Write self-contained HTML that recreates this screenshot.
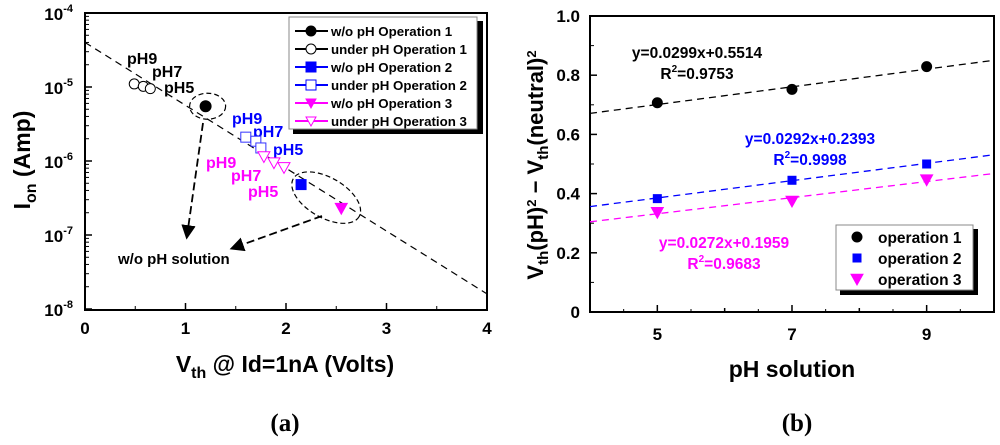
<!DOCTYPE html>
<html><head><meta charset="utf-8"><style>
body{margin:0;background:#fff}
svg{display:block;font-family:"Liberation Sans",Arial,sans-serif;font-weight:bold}
</style></head><body>
<svg id="c" width="1000" height="445" viewBox="0 0 1000 445" xmlns="http://www.w3.org/2000/svg"></svg>
<script>
// ---- panel (a) data ----
const aSeriesNames = ["w/o pH Operation 1","under pH Operation 1","w/o pH Operation 2","under pH Operation 2","w/o pH Operation 3","under pH Operation 3"];
const aVthOp1Under = [0.49, 0.58, 0.65];
const aIonOp1Under = [1.1e-5, 1.02e-5, 0.95e-5];
const aVthOp1 = [1.2];
const aIonOp1 = [5.5e-6];
const aVthOp2Under = [1.6, 1.7, 1.75];
const aIonOp2Under = [2.1e-6, 1.85e-6, 1.5e-6];
const aVthOp2 = [2.15];
const aIonOp2 = [4.8e-7];
const aVthOp3Under = [1.78, 1.88, 1.98];
const aIonOp3Under = [1.15e-6, 0.95e-6, 0.82e-6];
const aVthOp3 = [2.55];
const aIonOp3 = [2.3e-7];
const aTrendX = [0, 4];
const aTrendY = [4e-5, 1.6e-8];
const aXTicks = [0,1,2,3,4];
const aYTickExp = [-8,-7,-6,-5,-4];
// ---- panel (b) data ----
const bPH = [5, 7, 9];
const bOp1 = [0.707, 0.752, 0.829];
const bOp2 = [0.383, 0.445, 0.500];
const bOp3 = [0.337, 0.375, 0.447];
const bSlopes = [0.0299, 0.0292, 0.0272];
const bIntercepts = [0.5514, 0.2393, 0.1959];
const bXTicks = [5, 7, 9];
const bYTicks = [0, 0.2, 0.4, 0.6, 0.8, 1.0];

const S = document.getElementById('c'), NS = 'http://www.w3.org/2000/svg';
function el(tag, at, parent){const e=document.createElementNS(NS,tag);for(const k in at)e.setAttribute(k,at[k]);(parent||S).appendChild(e);return e;}
function txt(x,y,s,size,fill,anchor,name){const t=el('text',{x:x,y:y,'font-size':size,fill:fill||'#000','text-anchor':anchor||'start'});t.textContent=s;


return t;}

const ax=v=>85+v*100.5;
const ay=v=>13+(-4-Math.log10(v))*74;
const bx=v=>590+(v-4)*67.33;
const by=v=>312-v*296;

// ---------- Panel a ----------
let r=el('rect',{x:85,y:13,width:402,height:297,fill:'none',stroke:'#000','stroke-width':2});


aXTicks.forEach(v=>{el('line',{x1:ax(v),x2:ax(v),y1:310,y2:303,stroke:'#000','stroke-width':1.5});
 if(v<4) el('line',{x1:ax(v+0.5),x2:ax(v+0.5),y1:310,y2:306,stroke:'#000','stroke-width':1});
 txt(ax(v),334,String(v),17,'#000','middle','x-tick-a');});
aYTickExp.forEach(e=>{const y=ay(Math.pow(10,e));el('line',{x1:85,x2:92,y1:y,y2:y,stroke:'#000','stroke-width':1.5});
 if(e<-4) for(let m=2;m<10;m++){const yy=ay(m*Math.pow(10,e));el('line',{x1:85,x2:89,y1:yy,y2:yy,stroke:'#000','stroke-width':1});}
 const t=txt(73,y+7,'10',17,'#000','end','y-tick-a');const s=el('tspan',{'font-size':11,dy:-8},t);s.textContent=String(e);});
let yt=txt(0,0,'I',23,'#000','middle','y-axis-title-a');yt.setAttribute('transform','translate(30,160) rotate(-90)');
let ts=el('tspan',{'font-size':16,dy:6},yt);ts.textContent='on';ts=el('tspan',{dy:-6},yt);ts.textContent=' (Amp)';
let xt=txt(285,372,'V',23,'#000','middle','x-axis-title-a');ts=el('tspan',{'font-size':16,dy:6},xt);ts.textContent='th';ts=el('tspan',{dy:-6},xt);ts.textContent=' @ Id=1nA (Volts)';
el('line',{x1:ax(aTrendX[0]),y1:ay(aTrendY[0]),x2:ax(aTrendX[1]),y2:ay(aTrendY[1]),stroke:'#000','stroke-width':1.2,'stroke-dasharray':'7,5'});
el('ellipse',{cx:ax(1.22),cy:ay(5.5e-6),rx:18,ry:13,fill:'none',stroke:'#000','stroke-width':1.2,'stroke-dasharray':'5,3'});
el('ellipse',{cx:ax(2.4),cy:ay(3.2e-7),rx:38,ry:20,transform:`rotate(30 ${ax(2.4)} ${ay(3.2e-7)})`,fill:'none',stroke:'#000','stroke-width':1.2,'stroke-dasharray':'5,3'});
el('defs',{}).innerHTML='<marker id="ah" markerWidth="8" markerHeight="8" refX="6" refY="4" orient="auto"><path d="M0,0 L8,4 L0,8 z" fill="#000"/></marker>';
el('line',{x1:203,y1:123,x2:187,y2:236,stroke:'#000','stroke-width':1.8,'stroke-dasharray':'8,4','marker-end':'url(#ah)'});
el('line',{x1:322,y1:216,x2:233,y2:248,stroke:'#000','stroke-width':1.8,'stroke-dasharray':'8,4','marker-end':'url(#ah)'});
txt(118,264,'w/o pH solution',15,'#000','start','annotation-no-ph');
txt(127,64,'pH9',16,'#000','start','label-ph9-op1');txt(152,77,'pH7',16,'#000','start','label-ph7-op1');txt(164,93,'pH5',16,'#000','start','label-ph5-op1');
txt(232,124,'pH9',16,'#0000ff','start','label-ph9-op2');txt(253,137,'pH7',16,'#0000ff','start','label-ph7-op2');txt(273,155,'pH5',16,'#0000ff','start','label-ph5-op2');
txt(206,168,'pH9',16,'#ff00ff','start','label-ph9-op3');txt(231,181,'pH7',16,'#ff00ff','start','label-ph7-op3');txt(248,197,'pH5',16,'#ff00ff','start','label-ph5-op3');
function marker(type,x,y,color,filled,size,name){let m;const f=filled?color:'#fff';
 if(type==='c') m=el('circle',{cx:x,cy:y,r:size,fill:f,stroke:color,'stroke-width':1});
 else if(type==='s') m=el('rect',{x:x-size,y:y-size,width:2*size,height:2*size,fill:f,stroke:color,'stroke-width':1});
 else m=el('path',{d:`M${x-size},${y-size*0.8} L${x+size},${y-size*0.8} L${x},${y+size} Z`,fill:f,stroke:color,'stroke-width':1});
 
 
 return m;}
aVthOp1Under.forEach((v,i)=>marker('c',ax(v),ay(aIonOp1Under[i]),'#000',false,5,'point-op1-under'));
aVthOp1.forEach((v,i)=>marker('c',ax(v),ay(aIonOp1[i]),'#000',true,5.5,'point-op1'));
aVthOp2Under.forEach((v,i)=>marker('s',ax(v),ay(aIonOp2Under[i]),'#3333ff',false,5,'point-op2-under'));
aVthOp2.forEach((v,i)=>marker('s',ax(v),ay(aIonOp2[i]),'#0000ff',true,5,'point-op2'));
aVthOp3Under.forEach((v,i)=>marker('t',ax(v),ay(aIonOp3Under[i]),'#ff00ff',false,6,'point-op3-under'));
aVthOp3.forEach((v,i)=>marker('t',ax(v),ay(aIonOp3[i]),'#ff00ff',true,6,'point-op3'));
el('rect',{x:293,y:21,width:190,height:113,fill:'#000'});
let lg=el('rect',{x:289,y:17,width:188,height:112,fill:'#fff',stroke:'#888','stroke-width':1});


const lgCol=['#000','#000','#0000ff','#0000ff','#ff00ff','#ff00ff'],lgType=['c','c','s','s','t','t'],lgFill=[true,false,true,false,true,false];
aSeriesNames.forEach((n,i)=>{const y=31+i*18;el('line',{x1:295,x2:328,y1:y,y2:y,stroke:lgCol[i],'stroke-width':2});
 marker(lgType[i],311,y,lgCol[i],lgFill[i],5,'legend-entry-marker');txt(331,y+5,n,13.3,'#000','start','legend-entry');});

// ---------- Panel b ----------
r=el('rect',{x:590,y:16,width:404,height:296,fill:'none',stroke:'#000','stroke-width':2});


for(let v=5;v<10;v++){el('line',{x1:bx(v),x2:bx(v),y1:312,y2:(v%2?305:308),stroke:'#000','stroke-width':1.5});}
for(let v=4.5;v<10;v+=1){el('line',{x1:bx(v),x2:bx(v),y1:312,y2:309,stroke:'#000','stroke-width':1});}
bXTicks.forEach(v=>txt(bx(v),340,String(v),17,'#000','middle','x-tick-b'));
bYTicks.forEach(v=>{el('line',{x1:590,x2:597,y1:by(v),y2:by(v),stroke:'#000','stroke-width':1.5});
 if(v<1) el('line',{x1:590,x2:594,y1:by(v+0.1),y2:by(v+0.1),stroke:'#000','stroke-width':1});
 txt(580,by(v)+6,v===0?'0':v.toFixed(1),17,'#000','end','y-tick-b');});
xt=txt(792,377,'pH solution',23,'#000','middle','x-axis-title-b');
yt=txt(0,0,'V',22,'#000','middle','y-axis-title-b');yt.setAttribute('transform','translate(543,165) rotate(-90)');
[['th',1],['(pH)',0],['2',2],[' − V',0],['th',1],['(neutral)',0],['2',2]].forEach(([s,k])=>{const t=el('tspan',{},yt);t.textContent=s;
 if(k===1){t.setAttribute('font-size',15);t.setAttribute('baseline-shift','-5');} if(k===2){t.setAttribute('font-size',13);t.setAttribute('baseline-shift','super');}});
const bCol=['#000','#0000ff','#ff00ff'],bData=[bOp1,bOp2,bOp3],bType=['c','s','t'];
bSlopes.forEach((s,i)=>{const l=el('line',{x1:bx(4),y1:by(s*4+bIntercepts[i]),x2:bx(10),y2:by(s*10+bIntercepts[i]),stroke:bCol[i],'stroke-width':1.3,'stroke-dasharray':'7,5'});
 
 
 bPH.forEach((p,j)=>marker(bType[i],bx(p),by(bData[i][j]),bCol[i],true,bType[i]==='c'?5:(bType[i]==='s'?4:6),'point-b-op'+(i+1)));});
function eq(x,y,s,r2,c,n){txt(x,y,s,15.5,c,'middle',n);const t=txt(x,y+21,'R',15.5,c,'middle',n+'-r2');const a=el('tspan',{'font-size':10,dy:-7},t);a.textContent='2';const b=el('tspan',{dy:7},t);b.textContent='='+r2;}
eq(697,58,'y=0.0299x+0.5514','0.9753','#000','equation-op1');
eq(810,144,'y=0.0292x+0.2393','0.9998','#0000ff','equation-op2');
eq(724,248,'y=0.0272x+0.1959','0.9683','#ff00ff','equation-op3');
el('rect',{x:840,y:229,width:138,height:66,fill:'#000'});
lg=el('rect',{x:836,y:225,width:137,height:65,fill:'#fff',stroke:'#888','stroke-width':1});


['operation 1','operation 2','operation 3'].forEach((n,i)=>{const y=237+i*21;marker(bType[i],857,y,bCol[i],true,bType[i]==='c'?5:(bType[i]==='s'?4:6),'legend-b-marker');txt(878,y+6,n,15.5,'#000','start','legend-entry-b');});

const ca=txt(285,431,'(a)',25,'#000','middle','caption-a');ca.setAttribute('font-family','Liberation Serif,serif');
const cb=txt(797,431,'(b)',25,'#000','middle','caption-b');cb.setAttribute('font-family','Liberation Serif,serif');
</script>
</body></html>
